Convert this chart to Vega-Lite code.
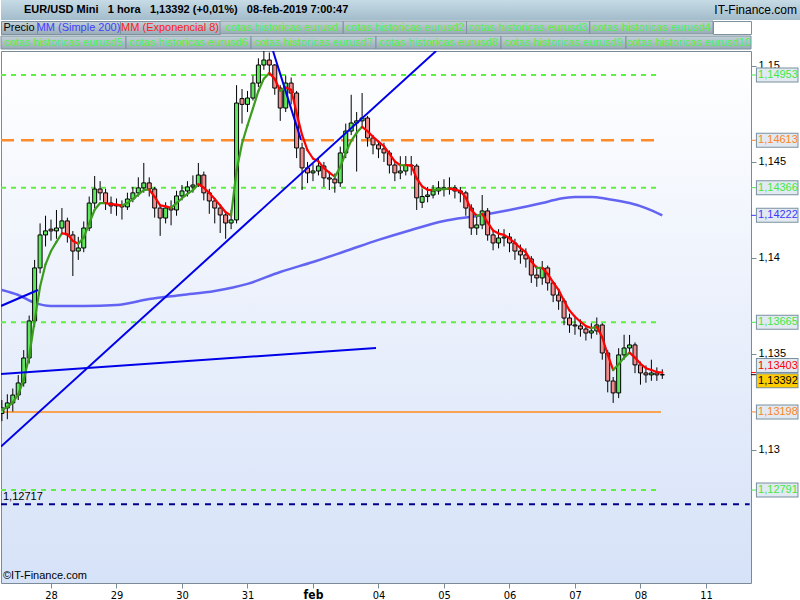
{
"$schema": "https://vega.github.io/schema/vega-lite/v6.json",
"background": "white",
"padding": 0,
"spacing": 0,
"config": {
  "concat": {"spacing": 0},
  "view": {"stroke": null},
  "font": "Liberation Sans",
  "scale": {"continuousPadding": 0},
  "locale": {"number": {"decimal": ",", "thousands": ".", "grouping": [3], "currency": ["", " €"]}}
},
"datasets": {
  "candles": [
{"t":-18,"o":1.1319,"h":1.1326,"l":1.1315,"c":1.13219,"e":1.13208},
{"t":-16,"o":1.13219,"h":1.1329,"l":1.1316,"c":1.13245,"e":1.13223},
{"t":-14,"o":1.13245,"h":1.1332,"l":1.132,"c":1.13286,"e":1.13248},
{"t":-12,"o":1.13286,"h":1.1339,"l":1.1326,"c":1.13349,"e":1.13289},
{"t":-10,"o":1.13349,"h":1.1352,"l":1.1333,"c":1.13479,"e":1.13365},
{"t":-8,"o":1.13479,"h":1.137,"l":1.1345,"c":1.13672,"e":1.13487},
{"t":-6,"o":1.13672,"h":1.1399,"l":1.1364,"c":1.13948,"e":1.13672},
{"t":-4,"o":1.13948,"h":1.1418,"l":1.1392,"c":1.1412,"e":1.13851},
{"t":-2,"o":1.1412,"h":1.1422,"l":1.1406,"c":1.14141,"e":1.13967},
{"t":0,"o":1.1415,"h":1.142,"l":1.1409,"c":1.14141,"e":1.14036},
{"t":2,"o":1.14141,"h":1.1425,"l":1.141,"c":1.14156,"e":1.14084},
{"t":4,"o":1.14156,"h":1.1426,"l":1.1413,"c":1.14193,"e":1.14128},
{"t":6,"o":1.14193,"h":1.1421,"l":1.1408,"c":1.1412,"e":1.14124},
{"t":8,"o":1.1412,"h":1.1414,"l":1.13906,"c":1.14036,"e":1.14089},
{"t":10,"o":1.14036,"h":1.1411,"l":1.1399,"c":1.14052,"e":1.14074},
{"t":12,"o":1.14052,"h":1.1419,"l":1.1403,"c":1.14156,"e":1.14107},
{"t":14,"o":1.14156,"h":1.1432,"l":1.1414,"c":1.14286,"e":1.14179},
{"t":16,"o":1.14286,"h":1.14427,"l":1.1426,"c":1.14359,"e":1.14251},
{"t":18,"o":1.14359,"h":1.144,"l":1.143,"c":1.14339,"e":1.14286},
{"t":20,"o":1.14339,"h":1.1436,"l":1.1425,"c":1.14286,"e":1.14286},
{"t":22,"o":1.14286,"h":1.1432,"l":1.1423,"c":1.14271,"e":1.1428},
{"t":24,"o":1.14271,"h":1.1431,"l":1.1422,"c":1.14276,"e":1.14278},
{"t":26,"o":1.14276,"h":1.143,"l":1.142,"c":1.14266,"e":1.14273},
{"t":28,"o":1.14266,"h":1.1434,"l":1.1425,"c":1.14307,"e":1.14286},
{"t":30,"o":1.14307,"h":1.1437,"l":1.1429,"c":1.14339,"e":1.14307},
{"t":32,"o":1.14339,"h":1.1442,"l":1.1432,"c":1.14365,"e":1.1433},
{"t":34,"o":1.14365,"h":1.14495,"l":1.1434,"c":1.14391,"e":1.14354},
{"t":36,"o":1.14391,"h":1.1442,"l":1.1432,"c":1.14359,"e":1.14356},
{"t":38,"o":1.14359,"h":1.1437,"l":1.1421,"c":1.1426,"e":1.14318},
{"t":40,"o":1.1426,"h":1.1428,"l":1.14115,"c":1.14208,"e":1.14274},
{"t":42,"o":1.14208,"h":1.1429,"l":1.1418,"c":1.1426,"e":1.14269},
{"t":44,"o":1.1426,"h":1.143,"l":1.1417,"c":1.1425,"e":1.14261},
{"t":46,"o":1.1425,"h":1.1435,"l":1.1422,"c":1.14323,"e":1.14286},
{"t":48,"o":1.14323,"h":1.1438,"l":1.143,"c":1.14349,"e":1.14311},
{"t":50,"o":1.14349,"h":1.144,"l":1.1432,"c":1.1437,"e":1.14334},
{"t":52,"o":1.1437,"h":1.1443,"l":1.1434,"c":1.1438,"e":1.14353},
{"t":54,"o":1.1438,"h":1.14495,"l":1.1437,"c":1.14432,"e":1.14384},
{"t":56,"o":1.14432,"h":1.1445,"l":1.143,"c":1.14339,"e":1.14366},
{"t":58,"o":1.14339,"h":1.1436,"l":1.1423,"c":1.14297,"e":1.14339},
{"t":60,"o":1.14297,"h":1.1431,"l":1.1418,"c":1.1426,"e":1.14307},
{"t":62,"o":1.1426,"h":1.1428,"l":1.1413,"c":1.14224,"e":1.14274},
{"t":64,"o":1.14224,"h":1.1424,"l":1.141,"c":1.14182,"e":1.14238},
{"t":66,"o":1.14182,"h":1.1425,"l":1.1415,"c":1.14198,"e":1.14222},
{"t":68,"o":1.14198,"h":1.149,"l":1.1418,"c":1.14807,"e":1.14456},
{"t":70,"o":1.1483,"h":1.1488,"l":1.147,"c":1.148,"e":1.14596},
{"t":72,"o":1.148,"h":1.1487,"l":1.1476,"c":1.14833,"e":1.14691},
{"t":74,"o":1.14833,"h":1.1495,"l":1.1482,"c":1.14911,"e":1.14779},
{"t":76,"o":1.14911,"h":1.1504,"l":1.1489,"c":1.15005,"e":1.1487},
{"t":78,"o":1.15005,"h":1.15078,"l":1.1498,"c":1.15031,"e":1.14934},
{"t":80,"o":1.15031,"h":1.1507,"l":1.1495,"c":1.15005,"e":1.14963},
{"t":82,"o":1.15005,"h":1.1501,"l":1.1485,"c":1.14885,"e":1.14932},
{"t":84,"o":1.14885,"h":1.149,"l":1.14714,"c":1.14781,"e":1.14871},
{"t":86,"o":1.14781,"h":1.1495,"l":1.1476,"c":1.14911,"e":1.14888},
{"t":88,"o":1.14911,"h":1.1494,"l":1.148,"c":1.14859,"e":1.14876},
{"t":90,"o":1.14859,"h":1.1487,"l":1.1452,"c":1.14573,"e":1.14755},
{"t":92,"o":1.14573,"h":1.146,"l":1.14354,"c":1.14469,"e":1.14641},
{"t":94,"o":1.14469,"h":1.145,"l":1.1439,"c":1.14443,"e":1.14561},
{"t":96,"o":1.14443,"h":1.1449,"l":1.144,"c":1.14453,"e":1.14518},
{"t":98,"o":1.14453,"h":1.1452,"l":1.1443,"c":1.14479,"e":1.14503},
{"t":100,"o":1.14479,"h":1.145,"l":1.1437,"c":1.14417,"e":1.14468},
{"t":102,"o":1.14417,"h":1.1445,"l":1.14354,"c":1.14411,"e":1.14445},
{"t":104,"o":1.14411,"h":1.1444,"l":1.1434,"c":1.14391,"e":1.14423},
{"t":106,"o":1.14391,"h":1.1458,"l":1.1437,"c":1.14547,"e":1.14473},
{"t":108,"o":1.14547,"h":1.147,"l":1.1452,"c":1.14661,"e":1.14548},
{"t":110,"o":1.14661,"h":1.1485,"l":1.1464,"c":1.14703,"e":1.1461},
{"t":112,"o":1.14703,"h":1.1476,"l":1.1445,"c":1.14714,"e":1.14652},
{"t":114,"o":1.14714,"h":1.14859,"l":1.1468,"c":1.14729,"e":1.14683},
{"t":116,"o":1.14729,"h":1.1474,"l":1.1458,"c":1.14625,"e":1.1466},
{"t":118,"o":1.14625,"h":1.1464,"l":1.1454,"c":1.14589,"e":1.14631},
{"t":120,"o":1.14589,"h":1.1461,"l":1.1452,"c":1.14568,"e":1.14606},
{"t":122,"o":1.14568,"h":1.146,"l":1.145,"c":1.14547,"e":1.14582},
{"t":124,"o":1.14547,"h":1.1456,"l":1.1444,"c":1.14484,"e":1.14543},
{"t":126,"o":1.14484,"h":1.145,"l":1.144,"c":1.14443,"e":1.14503},
{"t":128,"o":1.14443,"h":1.1453,"l":1.1441,"c":1.14453,"e":1.14483},
{"t":130,"o":1.14453,"h":1.14531,"l":1.1443,"c":1.14484,"e":1.14484},
{"t":132,"o":1.14484,"h":1.14531,"l":1.1443,"c":1.14479,"e":1.14482},
{"t":134,"o":1.14479,"h":1.1449,"l":1.1425,"c":1.14313,"e":1.14414},
{"t":136,"o":1.1429,"h":1.1436,"l":1.1426,"c":1.1432,"e":1.14373},
{"t":138,"o":1.1432,"h":1.1437,"l":1.1429,"c":1.14328,"e":1.14355},
{"t":140,"o":1.14328,"h":1.1438,"l":1.1431,"c":1.14349,"e":1.14353},
{"t":142,"o":1.14349,"h":1.144,"l":1.1433,"c":1.14365,"e":1.14357},
{"t":144,"o":1.14365,"h":1.1441,"l":1.1432,"c":1.14359,"e":1.14358},
{"t":146,"o":1.14359,"h":1.1442,"l":1.1433,"c":1.14365,"e":1.14361},
{"t":148,"o":1.14365,"h":1.1438,"l":1.1431,"c":1.14349,"e":1.14356},
{"t":150,"o":1.14349,"h":1.1437,"l":1.1429,"c":1.14339,"e":1.14349},
{"t":152,"o":1.14339,"h":1.1435,"l":1.1422,"c":1.1426,"e":1.14314},
{"t":154,"o":1.1426,"h":1.1428,"l":1.1412,"c":1.14156,"e":1.14251},
{"t":156,"o":1.14156,"h":1.1423,"l":1.1412,"c":1.14172,"e":1.14219},
{"t":158,"o":1.14172,"h":1.14328,"l":1.1415,"c":1.14245,"e":1.14229},
{"t":160,"o":1.14245,"h":1.1426,"l":1.1409,"c":1.1412,"e":1.14185},
{"t":162,"o":1.1412,"h":1.1414,"l":1.1404,"c":1.14078,"e":1.14143},
{"t":164,"o":1.14078,"h":1.1415,"l":1.1405,"c":1.14104,"e":1.14127},
{"t":166,"o":1.14104,"h":1.1415,"l":1.1406,"c":1.14109,"e":1.1412},
{"t":168,"o":1.14109,"h":1.1413,"l":1.1403,"c":1.14078,"e":1.14103},
{"t":170,"o":1.14078,"h":1.141,"l":1.1399,"c":1.14036,"e":1.14077},
{"t":172,"o":1.14036,"h":1.1407,"l":1.1397,"c":1.14016,"e":1.14052},
{"t":174,"o":1.14016,"h":1.1405,"l":1.1395,"c":1.13995,"e":1.14029},
{"t":176,"o":1.13995,"h":1.1401,"l":1.1387,"c":1.13911,"e":1.13982},
{"t":178,"o":1.13911,"h":1.1396,"l":1.1385,"c":1.13896,"e":1.13948},
{"t":180,"o":1.13896,"h":1.13984,"l":1.1386,"c":1.13948,"e":1.13948},
{"t":182,"o":1.13948,"h":1.1396,"l":1.1383,"c":1.1387,"e":1.13917},
{"t":184,"o":1.1387,"h":1.1388,"l":1.1377,"c":1.13807,"e":1.13873},
{"t":186,"o":1.13807,"h":1.1383,"l":1.1373,"c":1.13776,"e":1.13834},
{"t":188,"o":1.13776,"h":1.1379,"l":1.1365,"c":1.13687,"e":1.13776},
{"t":190,"o":1.13687,"h":1.1371,"l":1.1361,"c":1.13651,"e":1.13726},
{"t":192,"o":1.13651,"h":1.1369,"l":1.136,"c":1.13646,"e":1.13694},
{"t":194,"o":1.13646,"h":1.1368,"l":1.1359,"c":1.1363,"e":1.13668},
{"t":196,"o":1.1363,"h":1.1365,"l":1.1357,"c":1.13609,"e":1.13645},
{"t":198,"o":1.13609,"h":1.1366,"l":1.1358,"c":1.1362,"e":1.13635},
{"t":200,"o":1.1362,"h":1.1369,"l":1.136,"c":1.13651,"e":1.13641},
{"t":202,"o":1.13651,"h":1.1366,"l":1.1347,"c":1.13505,"e":1.13587},
{"t":204,"o":1.13505,"h":1.1352,"l":1.133,"c":1.13359,"e":1.13496},
{"t":206,"o":1.13359,"h":1.1338,"l":1.13245,"c":1.13297,"e":1.13416},
{"t":208,"o":1.13297,"h":1.1353,"l":1.1327,"c":1.13495,"e":1.13447},
{"t":210,"o":1.13495,"h":1.136,"l":1.1347,"c":1.13531,"e":1.13481},
{"t":212,"o":1.13531,"h":1.13599,"l":1.135,"c":1.13547,"e":1.13507},
{"t":214,"o":1.13547,"h":1.1356,"l":1.134,"c":1.13443,"e":1.13481},
{"t":216,"o":1.13443,"h":1.1346,"l":1.1334,"c":1.13401,"e":1.13449},
{"t":218,"o":1.13401,"h":1.1344,"l":1.1335,"c":1.13391,"e":1.13426},
{"t":220,"o":1.13391,"h":1.1347,"l":1.1336,"c":1.13401,"e":1.13416},
{"t":222,"o":1.13401,"h":1.1343,"l":1.1336,"c":1.13391,"e":1.13406},
{"t":224,"o":1.13391,"h":1.1342,"l":1.1337,"c":1.13392,"e":1.13403}
  ],
  "sma": [
{"t":-18,"s":1.13833},{"t":-12,"s":1.13807},{"t":-6,"s":1.13766},{"t":0,"s":1.1375},{"t":12,"s":1.1375},{"t":24,"s":1.13755},{"t":36,"s":1.13786},{"t":48,"s":1.13807},{"t":60,"s":1.13828},{"t":72,"s":1.13865},{"t":84,"s":1.13927},{"t":96,"s":1.13979},{"t":108,"s":1.14036},{"t":120,"s":1.14094},{"t":132,"s":1.14146},{"t":144,"s":1.14193},{"t":156,"s":1.14219},{"t":168,"s":1.1425},{"t":180,"s":1.14286},{"t":186,"s":1.14307},{"t":192,"s":1.14318},{"t":198,"s":1.14318},{"t":204,"s":1.14307},{"t":212,"s":1.14286},{"t":218,"s":1.1426},{"t":224,"s":1.14222}
  ],
  "trend": [
{"id":"a","t":-18.32,"p":1.13018},{"id":"a","t":141.1,"p":1.15078},
{"id":"b","t":81.35,"p":1.15078},{"id":"b","t":91.6,"p":1.14615},
{"id":"c","t":-18.32,"p":1.13396},{"id":"c","t":119.1,"p":1.13531},
{"id":"d","t":-18.32,"p":1.1375},{"id":"d","t":-4.76,"p":1.13833}
  ],
  "levels": [
{"v":1.14953,"k":"cota"},{"v":1.14613,"k":"or"},{"v":1.14366,"k":"cota"},{"v":1.14222,"k":"sma"},{"v":1.13665,"k":"cota"},{"v":1.13198,"k":"or"},{"v":1.12791,"k":"cota"}
  ]
},
"vconcat": [
  {
    "width": 800, "height": 20,
    "view": {"stroke": null, "fill": {"gradient": "linear", "x1": 0, "y1": 0, "x2": 0, "y2": 1, "stops": [{"offset": 0, "color": "#c6dbe6"}, {"offset": 1, "color": "#a3bccb"}]}},
    "data": {"values": [{"p": "a", "txt": "EUR/USD Mini\u00a0\u00a0\u00a01 hora\u00a0\u00a0\u00a01,13392 (+0,01%)\u00a0\u00a0\u00a008-feb-2019 7:00:47"}, {"p": "b", "txt": "IT-Finance.com"}]},
    "layer": [
      {"transform": [{"filter": "datum.p == 'a'"}],
       "mark": {"type": "text", "align": "left", "baseline": "middle", "dx": 23, "fontWeight": "bold", "fontSize": 11, "color": "#000000"},
       "encoding": {"x": {"field": "p", "type": "nominal", "axis": null, "scale": {"type": "point", "domain": ["a", "b"], "padding": 0}}, "text": {"field": "txt"}}},
      {"transform": [{"filter": "datum.p == 'b'"}],
       "mark": {"type": "text", "align": "right", "baseline": "middle", "dx": -4, "fontSize": 12, "color": "#000000"},
       "encoding": {"x": {"field": "p", "type": "nominal", "axis": null, "scale": {"type": "point", "domain": ["a", "b"], "padding": 0}}, "text": {"field": "txt"}}}
    ]
  },
  {
    "spacing": 0,
    "bounds": "flush",
    "hconcat": [
      {"width": 36, "height": 13,
       "view": {"stroke": "#7d919e", "fill": {"gradient": "linear", "x1": 0, "y1": 0, "x2": 0, "y2": 1, "stops": [{"offset": 0, "color": "#c3d1d8"}, {"offset": 1, "color": "#98abb7"}]}},
       "data": {"values": [{"txt": "Precio"}]},
       "mark": {"type": "text", "baseline": "middle", "fontSize": 11, "color": "#000000"},
       "encoding": {"text": {"field": "txt"}}},
      {"width": 83, "height": 13,
       "view": {"stroke": "#7d919e", "fill": {"gradient": "linear", "x1": 0, "y1": 0, "x2": 0, "y2": 1, "stops": [{"offset": 0, "color": "#c3d1d8"}, {"offset": 1, "color": "#98abb7"}]}},
       "data": {"values": [{"txt": "MM (Simple 200)"}]},
       "mark": {"type": "text", "baseline": "middle", "fontSize": 11, "color": "#4040ff"},
       "encoding": {"text": {"field": "txt"}}},
      {"width": 100, "height": 13,
       "view": {"stroke": "#7d919e", "fill": {"gradient": "linear", "x1": 0, "y1": 0, "x2": 0, "y2": 1, "stops": [{"offset": 0, "color": "#c3d1d8"}, {"offset": 1, "color": "#98abb7"}]}},
       "data": {"values": [{"txt": "MM (Exponencial 8)"}]},
       "mark": {"type": "text", "baseline": "middle", "fontSize": 11, "color": "#ff1a1a"},
       "encoding": {"text": {"field": "txt"}}},
      {"width": 493, "height": 13,
       "data": {"values": [{"txt": "cotas historicas eurusd"}, {"txt": "cotas historicas eurusd2"}, {"txt": "cotas historicas eurusd3"}, {"txt": "cotas historicas eurusd4"}]},
       "layer": [
         {"mark": {"type": "rect", "stroke": "#7d919e", "strokeWidth": 1, "fill": {"gradient": "linear", "x1": 0, "y1": 0, "x2": 0, "y2": 1, "stops": [{"offset": 0, "color": "#c3d1d8"}, {"offset": 1, "color": "#98abb7"}]}},
          "encoding": {"x": {"field": "txt", "type": "nominal", "sort": null, "axis": null, "scale": {"type": "band", "paddingInner": 0, "paddingOuter": 0}}}},
         {"mark": {"type": "text", "baseline": "middle", "fontSize": 11, "color": "#55f04a"},
          "encoding": {"x": {"field": "txt", "type": "nominal", "sort": null, "axis": null, "scale": {"type": "band", "paddingInner": 0, "paddingOuter": 0}}, "text": {"field": "txt"}}}
       ]},
      {"width": 38, "height": 13,
       "view": {"stroke": "#7d919e", "fill": "#ffffff"},
       "data": {"values": [{"txt": ""}]},
       "mark": {"type": "text"},
       "encoding": {"text": {"field": "txt"}}}
    ]
  },
  {
    "width": 750, "height": 13,
    "data": {"values": [{"txt": "cotas historicas eurusd5"}, {"txt": "cotas historicas eurusd6"}, {"txt": "cotas historicas eurusd7"}, {"txt": "cotas historicas eurusd8"}, {"txt": "cotas historicas eurusd9"}, {"txt": "cotas historicas eurusd10"}]},
    "layer": [
      {"mark": {"type": "rect", "stroke": "#7d919e", "strokeWidth": 1, "fill": {"gradient": "linear", "x1": 0, "y1": 0, "x2": 0, "y2": 1, "stops": [{"offset": 0, "color": "#c3d1d8"}, {"offset": 1, "color": "#98abb7"}]}},
       "encoding": {"x": {"field": "txt", "type": "nominal", "sort": null, "axis": null, "scale": {"type": "band", "paddingInner": 0, "paddingOuter": 0}}}},
      {"mark": {"type": "text", "baseline": "middle", "fontSize": 11, "color": "#55f04a"},
       "encoding": {"x": {"field": "txt", "type": "nominal", "sort": null, "axis": null, "scale": {"type": "band", "paddingInner": 0, "paddingOuter": 0}}, "text": {"field": "txt"}}}
    ]
  },
  {
    "width": 750, "height": 532,
    "view": {"stroke": "#7a8a96", "fill": {"gradient": "linear", "x1": 0, "y1": 0, "x2": 0, "y2": 1, "stops": [{"offset": 0, "color": "#ffffff"}, {"offset": 1, "color": "#d6e2f8"}]}},
    "layer": [
      {"data": {"values": [{"v": 1.14953}, {"v": 1.14366}, {"v": 1.13665}, {"v": 1.12791}]},
       "mark": {"type": "rule", "color": "#5ef040", "strokeWidth": 2, "strokeDash": [5, 5], "clip": true},
       "encoding": {
         "x": {"datum": -18.32, "type": "quantitative", "scale": {"domain": [-18.32, 256.5], "nice": false, "zero": false, "padding": 0}, "title": null},
         "x2": {"datum": 223},
         "y": {"field": "v", "type": "quantitative", "scale": {"domain": [1.12307, 1.15078], "nice": false, "zero": false, "padding": 0}, "title": null}}},
      {"data": {"values": [{"v": 1.14613}]},
       "mark": {"type": "rule", "color": "#ff8a2a", "strokeWidth": 2.5, "strokeDash": [13, 7], "clip": true},
       "encoding": {
         "x": {"datum": -18.32, "type": "quantitative", "scale": {"domain": [-18.32, 256.5], "nice": false, "zero": false, "padding": 0}, "title": null},
         "x2": {"datum": 223},
         "y": {"field": "v", "type": "quantitative", "scale": {"domain": [1.12307, 1.15078], "nice": false, "zero": false, "padding": 0}, "title": null}}},
      {"data": {"values": [{"v": 1.13198}]},
       "mark": {"type": "rule", "color": "#ff8c1a", "strokeWidth": 1.5, "clip": true},
       "encoding": {
         "x": {"datum": -18.32, "type": "quantitative", "scale": {"domain": [-18.32, 256.5], "nice": false, "zero": false, "padding": 0}, "title": null},
         "x2": {"datum": 223.5},
         "y": {"field": "v", "type": "quantitative", "scale": {"domain": [1.12307, 1.15078], "nice": false, "zero": false, "padding": 0}, "title": null}}},
      {"data": {"values": [{"v": 1.12717}]},
       "mark": {"type": "rule", "color": "#00008b", "strokeWidth": 2, "strokeDash": [6, 6], "clip": true},
       "encoding": {
         "x": {"datum": -18.32, "type": "quantitative", "scale": {"domain": [-18.32, 256.5], "nice": false, "zero": false, "padding": 0}, "title": null},
         "x2": {"datum": 256},
         "y": {"field": "v", "type": "quantitative", "scale": {"domain": [1.12307, 1.15078], "nice": false, "zero": false, "padding": 0}, "title": null}}},
      {"data": {"name": "sma"},
       "mark": {"type": "line", "color": "#4a4af0", "strokeWidth": 2.5, "opacity": 0.85, "interpolate": "monotone", "clip": true},
       "encoding": {
         "x": {"field": "t", "type": "quantitative", "scale": {"domain": [-18.32, 256.5], "nice": false, "zero": false, "padding": 0}, "title": null},
         "y": {"field": "s", "type": "quantitative", "scale": {"domain": [1.12307, 1.15078], "nice": false, "zero": false, "padding": 0}, "title": null}}},
      {"data": {"name": "candles"},
       "mark": {"type": "rule", "color": "#000000", "strokeWidth": 1, "clip": true},
       "encoding": {
         "x": {"field": "t", "type": "quantitative", "scale": {"domain": [-18.32, 256.5], "nice": false, "zero": false, "padding": 0}, "title": null,
               "axis": {"values": [0, 24, 48, 72, 96, 120, 144, 168, 192, 216, 240], "labelExpr": "['28','29','30','31','feb','04','05','06','07','08','11'][round(datum.value/24)]", "grid": false, "domain": false, "tickColor": "#7a8a96", "tickSize": 5, "labelFont": "Liberation Sans Narrow, DejaVu Sans Condensed, sans-serif", "labelFontSize": {"condition": {"test": "datum.value == 96", "value": 12}, "value": 11}, "labelFontWeight": {"condition": {"test": "datum.value == 96", "value": "bold"}, "value": "normal"}, "labelColor": "#000000", "labelPadding": 1, "title": null}},
         "y": {"field": "l", "type": "quantitative", "scale": {"domain": [1.12307, 1.15078], "nice": false, "zero": false, "padding": 0}, "title": null,
               "axis": {"orient": "right", "values": [1.13, 1.135, 1.14, 1.145, 1.15], "labelExpr": "replace(format(datum.value, '.3~f'), '.', ',')", "grid": false, "domain": false, "tickColor": "#7a8a96", "tickSize": 5, "labelFontSize": 11, "labelColor": "#000000", "labelPadding": 2, "title": null}},
         "y2": {"field": "h"}}},
      {"data": {"name": "candles"},
       "mark": {"type": "bar", "width": 4, "stroke": "#000000", "strokeWidth": 1, "clip": true},
       "encoding": {
         "x": {"field": "t", "type": "quantitative", "scale": {"domain": [-18.32, 256.5], "nice": false, "zero": false, "padding": 0}, "title": null},
         "y": {"field": "o", "type": "quantitative", "scale": {"domain": [1.12307, 1.15078], "nice": false, "zero": false, "padding": 0}, "title": null},
         "y2": {"field": "c"},
         "color": {"condition": {"test": "datum.c >= datum.o", "value": "#5ee65e"}, "value": "#f08c8c"}}},
      {"data": {"name": "candles"},
       "transform": [{"window": [{"op": "lag", "field": "e", "as": "ep"}, {"op": "lag", "field": "t", "as": "tp"}], "sort": [{"field": "t"}]}, {"filter": "datum.ep != null"}],
       "mark": {"type": "rule", "strokeWidth": 2.2, "strokeCap": "round", "clip": true},
       "encoding": {
         "x": {"field": "tp", "type": "quantitative", "scale": {"domain": [-18.32, 256.5], "nice": false, "zero": false, "padding": 0}, "title": null},
         "x2": {"field": "t"},
         "y": {"field": "ep", "type": "quantitative", "scale": {"domain": [1.12307, 1.15078], "nice": false, "zero": false, "padding": 0}, "title": null},
         "y2": {"field": "e"},
         "color": {"condition": {"test": "datum.e >= datum.ep", "value": "#3c9c1e"}, "value": "#ff0000"}}},
      {"data": {"name": "trend"},
       "mark": {"type": "line", "color": "#0000e8", "strokeWidth": 2, "clip": true},
       "encoding": {
         "x": {"field": "t", "type": "quantitative", "scale": {"domain": [-18.32, 256.5], "nice": false, "zero": false, "padding": 0}, "title": null},
         "y": {"field": "p", "type": "quantitative", "scale": {"domain": [1.12307, 1.15078], "nice": false, "zero": false, "padding": 0}, "title": null},
         "detail": {"field": "id"}}},
      {"data": {"values": [{"txt": "1,12717", "v": 1.12717}]},
       "mark": {"type": "text", "align": "left", "baseline": "bottom", "dx": 2, "dy": -2, "fontSize": 11, "color": "#000000"},
       "encoding": {
         "x": {"datum": -18.32, "type": "quantitative", "scale": {"domain": [-18.32, 256.5], "nice": false, "zero": false, "padding": 0}, "title": null},
         "y": {"field": "v", "type": "quantitative", "scale": {"domain": [1.12307, 1.15078], "nice": false, "zero": false, "padding": 0}, "title": null},
         "text": {"field": "txt"}}},
      {"data": {"values": [{"txt": "©IT-Finance.com"}]},
       "mark": {"type": "text", "align": "left", "baseline": "bottom", "dx": 2, "dy": -2, "fontSize": 11, "color": "#000000"},
       "encoding": {
         "x": {"datum": -18.32, "type": "quantitative", "scale": {"domain": [-18.32, 256.5], "nice": false, "zero": false, "padding": 0}, "title": null},
         "y": {"datum": 1.12307, "type": "quantitative", "scale": {"domain": [1.12307, 1.15078], "nice": false, "zero": false, "padding": 0}, "title": null},
         "text": {"field": "txt"}}},
      {"data": {"name": "levels"},
       "mark": {"type": "rule", "strokeWidth": 1},
       "encoding": {
         "x": {"datum": 256.5, "type": "quantitative", "scale": {"domain": [-18.32, 256.5], "nice": false, "zero": false, "padding": 0}, "title": null},
         "x2": {"datum": 258.3},
         "y": {"field": "v", "type": "quantitative", "scale": {"domain": [1.12307, 1.15078], "nice": false, "zero": false, "padding": 0}, "title": null},
         "color": {"field": "k", "type": "nominal", "legend": null, "scale": {"domain": ["cota", "or", "sma"], "range": ["#44e844", "#ff8426", "#3a3aff"]}}}},
      {"data": {"name": "levels"},
       "mark": {"type": "rule", "strokeWidth": 15, "color": "#7890a0", "strokeCap": "butt"},
       "encoding": {
         "x": {"datum": 258.3, "type": "quantitative", "scale": {"domain": [-18.32, 256.5], "nice": false, "zero": false, "padding": 0}, "title": null},
         "x2": {"datum": 273.9},
         "y": {"field": "v", "type": "quantitative", "scale": {"domain": [1.12307, 1.15078], "nice": false, "zero": false, "padding": 0}, "title": null}}},
      {"data": {"name": "levels"},
       "mark": {"type": "rule", "strokeWidth": 13, "color": "#e2e9f0", "strokeCap": "butt"},
       "encoding": {
         "x": {"datum": 258.67, "type": "quantitative", "scale": {"domain": [-18.32, 256.5], "nice": false, "zero": false, "padding": 0}, "title": null},
         "x2": {"datum": 273.53},
         "y": {"field": "v", "type": "quantitative", "scale": {"domain": [1.12307, 1.15078], "nice": false, "zero": false, "padding": 0}, "title": null}}},
      {"data": {"name": "levels"},
       "mark": {"type": "text", "align": "left", "baseline": "middle", "fontSize": 11},
       "encoding": {
         "x": {"datum": 259.1, "type": "quantitative", "scale": {"domain": [-18.32, 256.5], "nice": false, "zero": false, "padding": 0}, "title": null},
         "y": {"field": "v", "type": "quantitative", "scale": {"domain": [1.12307, 1.15078], "nice": false, "zero": false, "padding": 0}, "title": null},
         "text": {"field": "v", "type": "quantitative", "format": ".5f"},
         "color": {"field": "k", "type": "nominal", "legend": null, "scale": {"domain": ["cota", "or", "sma"], "range": ["#44e844", "#ff8426", "#3a3aff"]}}}},
      {"data": {"values": [{"v": 1.13403}]},
       "layer": [
         {"mark": {"type": "rule", "strokeWidth": 1, "color": "#ff0000"},
          "encoding": {"x": {"datum": 256.5, "type": "quantitative", "scale": {"domain": [-18.32, 256.5], "nice": false, "zero": false, "padding": 0}, "title": null}, "x2": {"datum": 258.3}, "y": {"field": "v", "type": "quantitative", "scale": {"domain": [1.12307, 1.15078], "nice": false, "zero": false, "padding": 0}, "title": null}}},
         {"mark": {"type": "rule", "strokeWidth": 15, "color": "#7890a0", "strokeCap": "butt", "yOffset": -7},
          "encoding": {"x": {"datum": 258.3, "type": "quantitative", "scale": {"domain": [-18.32, 256.5], "nice": false, "zero": false, "padding": 0}, "title": null}, "x2": {"datum": 273.9}, "y": {"field": "v", "type": "quantitative", "scale": {"domain": [1.12307, 1.15078], "nice": false, "zero": false, "padding": 0}, "title": null}}},
         {"mark": {"type": "rule", "strokeWidth": 13, "color": "#e2e9f0", "strokeCap": "butt", "yOffset": -7},
          "encoding": {"x": {"datum": 258.67, "type": "quantitative", "scale": {"domain": [-18.32, 256.5], "nice": false, "zero": false, "padding": 0}, "title": null}, "x2": {"datum": 273.53}, "y": {"field": "v", "type": "quantitative", "scale": {"domain": [1.12307, 1.15078], "nice": false, "zero": false, "padding": 0}, "title": null}}},
         {"mark": {"type": "text", "align": "left", "baseline": "middle", "fontSize": 11, "dy": -7, "color": "#ff0000"},
          "encoding": {"x": {"datum": 259.1, "type": "quantitative", "scale": {"domain": [-18.32, 256.5], "nice": false, "zero": false, "padding": 0}, "title": null}, "y": {"field": "v", "type": "quantitative", "scale": {"domain": [1.12307, 1.15078], "nice": false, "zero": false, "padding": 0}, "title": null}, "text": {"field": "v", "type": "quantitative", "format": ".5f"}}}
       ]},
      {"data": {"values": [{"v": 1.13392}]},
       "layer": [
         {"mark": {"type": "rule", "strokeWidth": 1, "color": "#000000"},
          "encoding": {"x": {"datum": 256.5, "type": "quantitative", "scale": {"domain": [-18.32, 256.5], "nice": false, "zero": false, "padding": 0}, "title": null}, "x2": {"datum": 258.3}, "y": {"field": "v", "type": "quantitative", "scale": {"domain": [1.12307, 1.15078], "nice": false, "zero": false, "padding": 0}, "title": null}}},
         {"mark": {"type": "rule", "strokeWidth": 15, "color": "#7890a0", "strokeCap": "butt", "yOffset": 6},
          "encoding": {"x": {"datum": 258.3, "type": "quantitative", "scale": {"domain": [-18.32, 256.5], "nice": false, "zero": false, "padding": 0}, "title": null}, "x2": {"datum": 273.9}, "y": {"field": "v", "type": "quantitative", "scale": {"domain": [1.12307, 1.15078], "nice": false, "zero": false, "padding": 0}, "title": null}}},
         {"mark": {"type": "rule", "strokeWidth": 13, "color": "#ffcc00", "strokeCap": "butt", "yOffset": 6},
          "encoding": {"x": {"datum": 258.67, "type": "quantitative", "scale": {"domain": [-18.32, 256.5], "nice": false, "zero": false, "padding": 0}, "title": null}, "x2": {"datum": 273.53}, "y": {"field": "v", "type": "quantitative", "scale": {"domain": [1.12307, 1.15078], "nice": false, "zero": false, "padding": 0}, "title": null}}},
         {"mark": {"type": "text", "align": "left", "baseline": "middle", "fontSize": 11, "dy": 6, "color": "#000000"},
          "encoding": {"x": {"datum": 259.1, "type": "quantitative", "scale": {"domain": [-18.32, 256.5], "nice": false, "zero": false, "padding": 0}, "title": null}, "y": {"field": "v", "type": "quantitative", "scale": {"domain": [1.12307, 1.15078], "nice": false, "zero": false, "padding": 0}, "title": null}, "text": {"field": "v", "type": "quantitative", "format": ".5f"}}}
       ]}
    ]
  }
]
}
